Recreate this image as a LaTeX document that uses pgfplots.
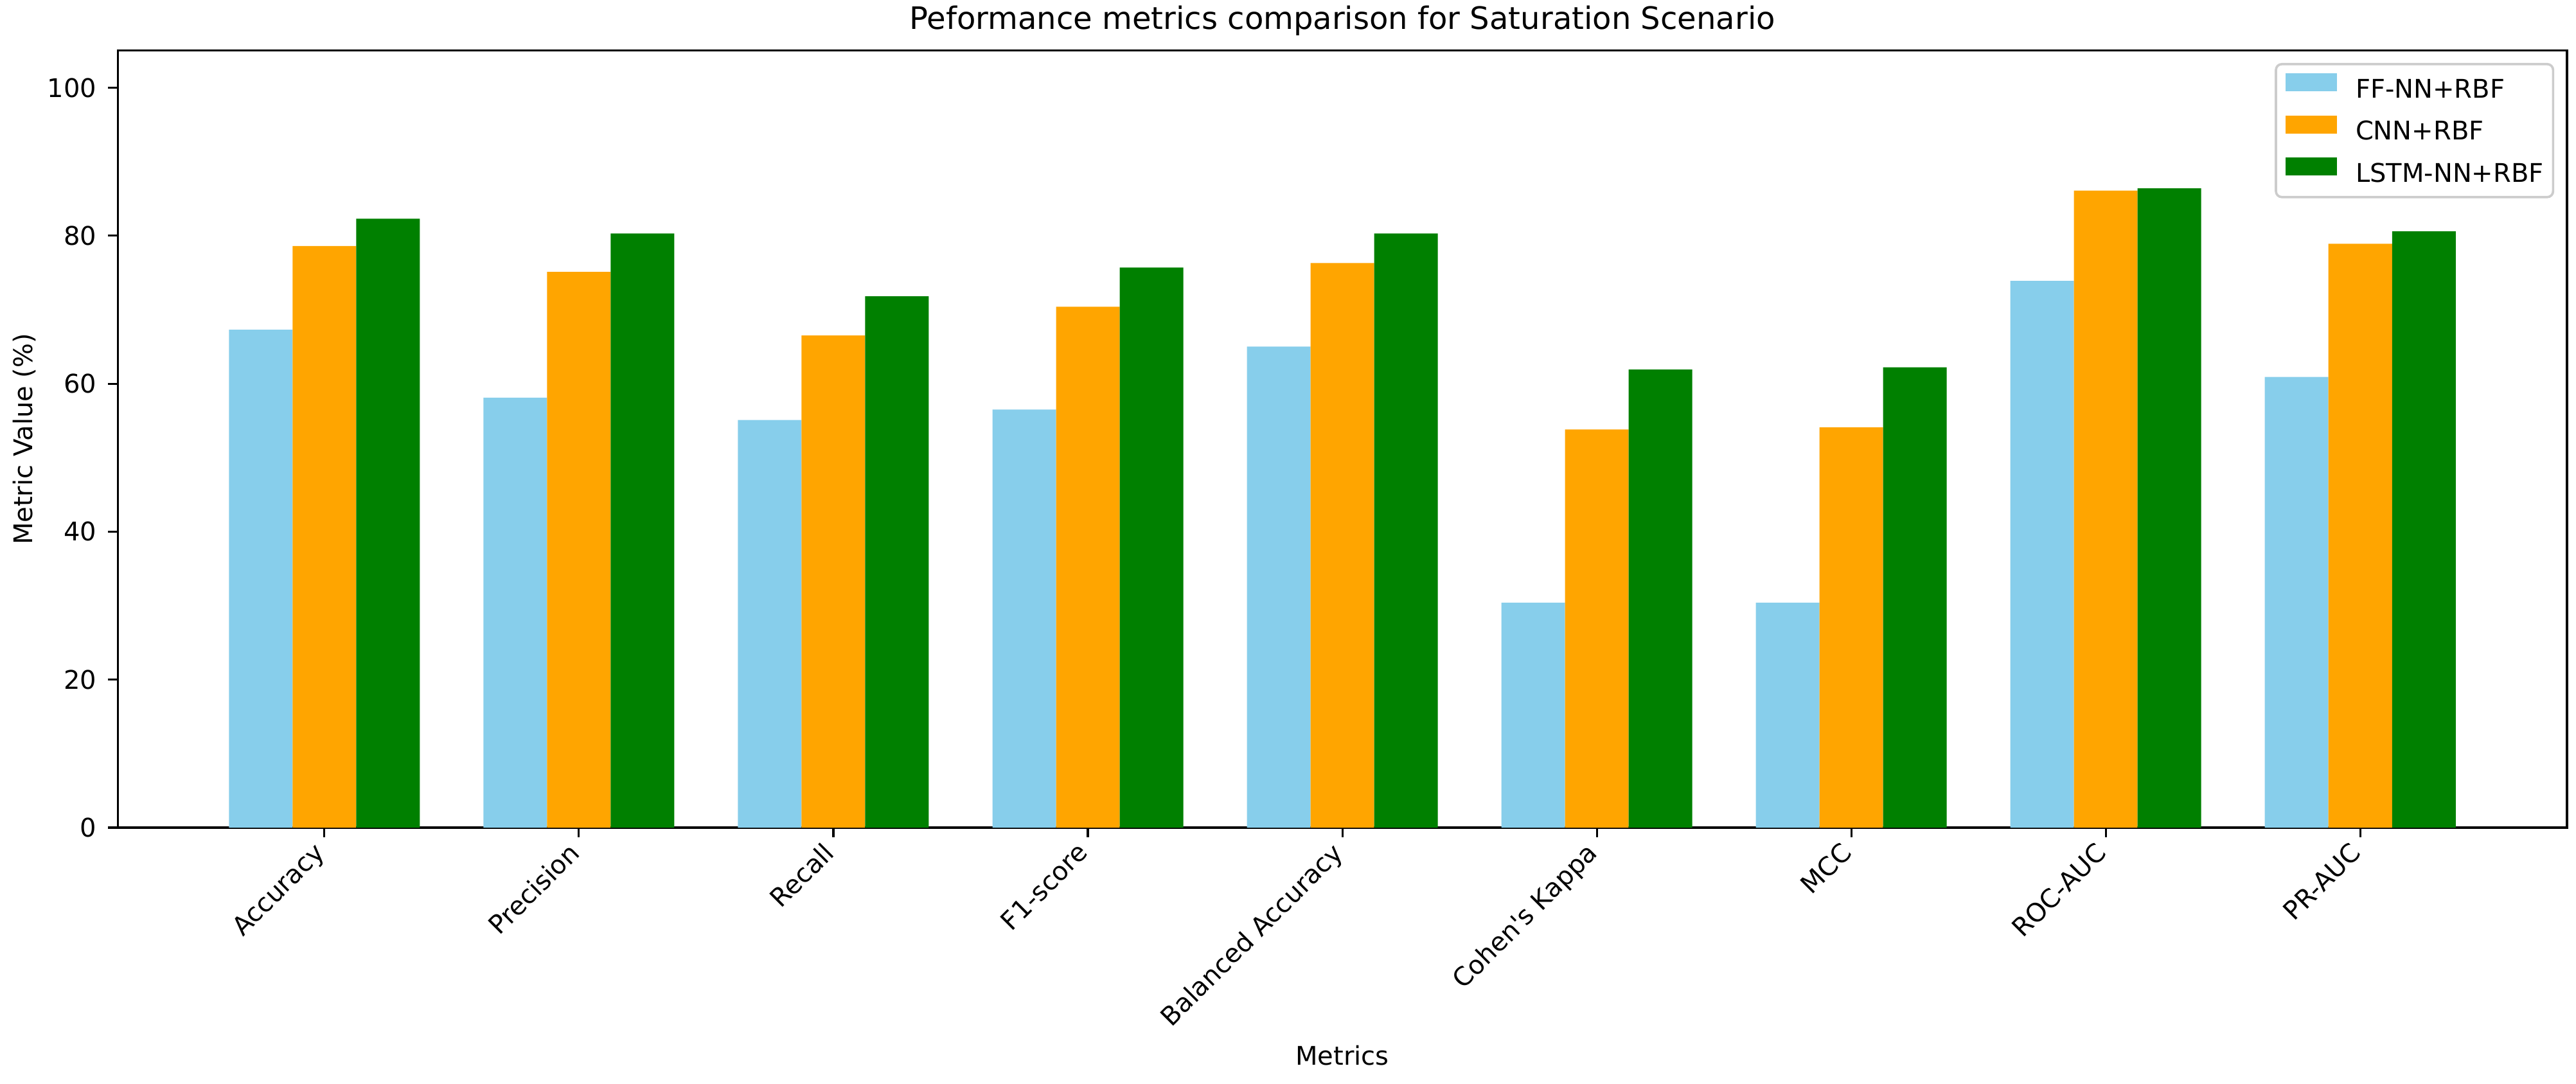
\documentclass[border=0pt]{standalone}
\usepackage{fontspec}
\setmainfont{DejaVu Sans}[Ligatures=TeXOff]
\usepackage{pgfplots}
\usepackage{pgfplotstable}
\pgfplotsset{compat=1.18}

\definecolor{skyblue}{HTML}{87CEEB}
\definecolor{mplorange}{HTML}{FFA500}
\definecolor{mplgreen}{HTML}{008000}

% x: 0 Accuracy ... 8 PR-AUC
\pgfplotstableread{
x  ff    cnn   lstm
0  67.3  78.6  82.3
1  58.1  75.1  80.3
2  55.1  66.5  71.8
3  56.5  70.4  75.7
4  65.0  76.3  80.3
5  30.4  53.8  61.9
6  30.4  54.1  62.2
7  73.9  86.1  86.4
8  60.9  78.9  80.6
}\metrics

\newcommand{\lblfont}{\fontsize{10.9}{13}\selectfont}

\begin{document}
\begin{tikzpicture}
\useasboundingbox (-49.9pt,-108.5pt) rectangle (1042.6pt,351.0pt);
\begin{axis}[
  scale only axis,
  width=1038.8pt, height=329.5pt,
  xmin=-0.8125, xmax=8.8125,
  ymin=0, ymax=105,
  xtick={0,...,8},
  xticklabels={Accuracy, Precision, Recall, F1-score, Balanced Accuracy,
    Cohen's Kappa, MCC, ROC-AUC, PR-AUC},
  ytick={0,20,...,100},
  tick align=outside,
  tick pos=left,
  major tick length=4pt,
  every tick/.style={black, line width=0.85pt},
  axis line style={line width=0.85pt},
  tick label style={font=\lblfont},
  /pgf/number format/assume math mode=true,
  xticklabel style={xshift=-5pt, rotate=45, anchor=north east, inner sep=1pt},
  yticklabel style={inner sep=1pt, xshift=-3.8pt},
  title={Peformance metrics comparison for Saturation Scenario},
  title style={font=\fontsize{13.1}{15}\selectfont, at={(axis description cs:0.5,1)}, anchor=base, yshift=3pt},
  xlabel={Metrics},
  xlabel style={font=\lblfont, at={(axis description cs:0.5,-0.2935)}, anchor=center},
  ylabel={Metric Value (\%)},
  ylabel style={font=\lblfont, at={(axis description cs:-0.038,0.5)}, anchor=center},
  legend cell align=left,
  legend style={at={(1,1)}, anchor=north east, xshift=-5.4pt, yshift=-5.2pt,
    font=\lblfont,
    draw=black!20, line width=1pt, rounded corners=2.5pt, fill=white,
    fill opacity=0.8, text opacity=1,
    inner xsep=0.4em, inner ysep=0.4em, row sep=0.5em, column sep=0.8em,
    nodes={inner sep=0pt, text height=0.76em, text depth=0.24em}},
  legend image code/.code={\fill[#1,draw=none,sharp corners,fill opacity=1] (0pt,0.2pt) rectangle (21.8pt,7.8pt);},
]
\addplot[ybar, bar width=0.25, bar shift=-0.25, fill=skyblue, draw=none] table[x=x, y=ff] {\metrics};
\addplot[ybar, bar width=0.25, bar shift=0, fill=mplorange, draw=none] table[x=x, y=cnn] {\metrics};
\addplot[ybar, bar width=0.25, bar shift=0.25, fill=mplgreen, draw=none] table[x=x, y=lstm] {\metrics};
\legend{FF-NN+RBF, CNN+RBF, LSTM-NN+RBF}
\end{axis}
\end{tikzpicture}
\end{document}
